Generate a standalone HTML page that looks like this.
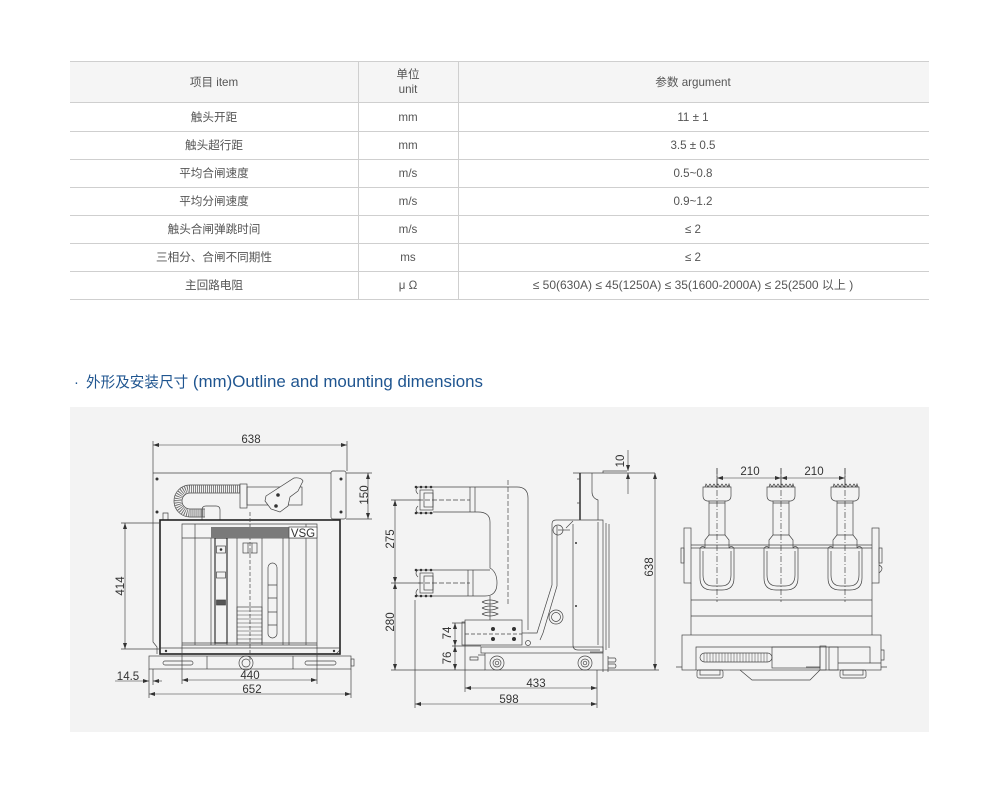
<!DOCTYPE html>
<html><head><meta charset="utf-8"><style>
html,body{margin:0;padding:0;background:#fff;}
svg{display:block;}
.t{font-family:"Liberation Sans","Noto Sans CJK SC",sans-serif;font-size:11.6px;fill:#555;}
.d{font-family:"Liberation Sans",sans-serif;font-size:11.5px;fill:#333;}
</style></head><body>
<svg width="1000" height="791" viewBox="0 0 1000 791" xmlns="http://www.w3.org/2000/svg">
<defs>
<marker id="a" markerWidth="6" markerHeight="4" refX="6" refY="2" orient="auto-start-reverse" markerUnits="userSpaceOnUse"><path d="M0,0 L6,2 L0,4 z" fill="#333"/></marker>
</defs>
<!-- TABLE -->
<rect x="70" y="61" width="859" height="41" fill="#f5f5f5"/>
<g stroke="#cfcfcf" stroke-width="1">
<line x1="70" y1="61.5" x2="929" y2="61.5"/>
<line x1="70" y1="102.5" x2="929" y2="102.5"/>
<line x1="70" y1="131.5" x2="929" y2="131.5"/>
<line x1="70" y1="159.5" x2="929" y2="159.5"/>
<line x1="70" y1="187.5" x2="929" y2="187.5"/>
<line x1="70" y1="215.5" x2="929" y2="215.5"/>
<line x1="70" y1="243.5" x2="929" y2="243.5"/>
<line x1="70" y1="271.5" x2="929" y2="271.5"/>
<line x1="70" y1="299.5" x2="929" y2="299.5"/>
<line x1="358.5" y1="61" x2="358.5" y2="300"/>
<line x1="458.5" y1="61" x2="458.5" y2="300"/>
</g>
<g class="t" text-anchor="middle">
<text x="214" y="86">项目 item</text>
<text x="408" y="78">单位</text>
<text x="408" y="93">unit</text>
<text x="693" y="86">参数 argument</text>
<text x="214" y="121">触头开距</text><text x="408" y="121">mm</text><text x="693" y="121">11 ± 1</text>
<text x="214" y="149">触头超行距</text><text x="408" y="149">mm</text><text x="693" y="149">3.5 ± 0.5</text>
<text x="214" y="177">平均合闸速度</text><text x="408" y="177">m/s</text><text x="693" y="177">0.5~0.8</text>
<text x="214" y="205">平均分闸速度</text><text x="408" y="205">m/s</text><text x="693" y="205">0.9~1.2</text>
<text x="214" y="233">触头合闸弹跳时间</text><text x="408" y="233">m/s</text><text x="693" y="233">≤ 2</text>
<text x="214" y="261">三相分、合闸不同期性</text><text x="408" y="261">ms</text><text x="693" y="261">≤ 2</text>
<text x="214" y="289">主回路电阻</text><text x="408" y="289">μ Ω</text><text x="693" y="289" font-size="12px">≤ 50(630A) ≤ 45(1250A) ≤ 35(1600-2000A) ≤ 25(2500 以上 )</text>
</g>
<!-- HEADING -->
<text x="74" y="387" fill="#1f5590" font-family="Liberation Sans,'Noto Sans CJK SC',sans-serif"><tspan font-size="14.6px">·</tspan><tspan x="86" font-size="14.6px">外形及安装尺寸</tspan><tspan font-size="16.9px"> (mm)Outline and mounting dimensions</tspan></text>
<!-- PANEL -->
<rect x="70" y="407" width="859" height="325" fill="#f3f3f3"/>

<!-- ================= LEFT DRAWING ================= -->
<g stroke="#444" stroke-width="0.7" fill="none">
<path d="M153,473 H331 M153,473 V642 L157,647 V654"/>
<rect x="331" y="471" width="15" height="48" rx="2"/>
<path d="M340,519 V650 L336,654"/>
<path d="M240,485 H190 A16,16 0 0 0 190,517 H205 M240,493 H190 A8,8 0 0 0 190,509 H205"/>
<path d="M240,489 H190 A12,12 0 0 0 190,513 H205" stroke-width="7" stroke-dasharray="0.8 1.2" stroke="#666"/>
<path d="M202,520 V510 Q202,506 206,506 H216 Q220,506 220,510 V520"/>
<path d="M163,520 V513 H168 V520"/>
<rect x="240" y="484" width="7" height="24"/>
<rect x="247" y="487" width="55" height="18"/>
<path d="M266,496 L294,478 Q301,477 303,481 L298,491 L290,497 L288,506 L280,512 L271,509 L265,501 Z" fill="#f3f3f3"/>
<rect x="160" y="520" width="180" height="134" stroke="#222" stroke-width="1.6"/>
<path d="M182,524 H317 V645 H182 Z"/>
<path d="M195,524 V645 M211,538 V645 M215,538 V645 M227,538 V645 M237,538 V645 M262,538 V645 M283,538 V645 M289,538 V645 M306,524 V645"/>
<path d="M182,538 H317 M160,648 H340 M182,643 H317"/>
<rect x="215" y="538" width="12" height="105" stroke="#222" stroke-width="1.1"/>
<rect x="216.5" y="546" width="9" height="7"/>
<rect x="216.5" y="572" width="9" height="6"/>
<rect x="216.5" y="600" width="9" height="5" fill="#555"/>
<rect x="243" y="543" width="14" height="10"/>
<path d="M248,543 V553 M252,543 V553"/>
<rect x="237" y="607" width="25" height="36"/>
<path d="M237,611 H262 M237,615 H262 M237,619 H262 M237,623 H262 M237,627 H262 M237,631 H262 M237,635 H262 M237,639 H262" stroke-width="0.5"/>
<rect x="268" y="563" width="9" height="75" rx="4.5"/>
<path d="M268,585 H277 M268,598 H277 M268,612 H277 M268,625 H277"/>
<path d="M250,512 V662" stroke-dasharray="4 2"/>
<rect x="149" y="656" width="202" height="13"/>
<path d="M207,656 V669 M293,656 V669"/>
<circle cx="246" cy="663" r="7"/><circle cx="246" cy="663" r="4"/>
<rect x="163" y="661" width="30" height="4" rx="2"/>
<rect x="305" y="661" width="31" height="4" rx="2"/>
<rect x="351" y="659" width="3" height="7"/>
<path d="M153,441 V473 M347,441 V471 M346,473 H372 M346,519 H372 M121,523 H160 M121,649 H160 M149,669 V698 M351,669 V698 M182,645 V684 M317,645 V684 M153,669 V685"/>
</g>
<g fill="#333">
<circle cx="157" cy="479" r="1.5"/><circle cx="157" cy="512" r="1.5"/>
<circle cx="341" cy="479" r="1.5"/><circle cx="341" cy="512" r="1.5"/>
<circle cx="278" cy="495" r="1.8"/><circle cx="276" cy="506" r="1.8"/>
<circle cx="221" cy="549.5" r="1.3"/><circle cx="166" cy="651" r="1.2"/><circle cx="334" cy="651" r="1.2"/>
</g>
<rect x="211" y="527" width="78" height="11" fill="#7a7a7a"/>
<rect x="289" y="527" width="28" height="11" fill="#fff" stroke="#444" stroke-width="0.7"/>
<text x="303" y="537" class="d" font-size="11px" text-anchor="middle">VSG</text>
<g stroke="#333" stroke-width="0.6" fill="none">
<line x1="153" y1="445" x2="347" y2="445" marker-start="url(#a)" marker-end="url(#a)"/>
<line x1="368" y1="473" x2="368" y2="519" marker-start="url(#a)" marker-end="url(#a)"/>
<line x1="125" y1="523" x2="125" y2="649" marker-start="url(#a)" marker-end="url(#a)"/>
<line x1="182" y1="680" x2="317" y2="680" marker-start="url(#a)" marker-end="url(#a)"/>
<line x1="149" y1="694" x2="351" y2="694" marker-start="url(#a)" marker-end="url(#a)"/>
<line x1="115" y1="681" x2="149" y2="681" marker-end="url(#a)"/>
<line x1="162" y1="681" x2="153" y2="681" marker-end="url(#a)"/>
</g>
<g class="d" text-anchor="middle">
<text x="251" y="443">638</text>
<text x="364" y="499" transform="rotate(-90 364 495)">150</text>
<text x="120" y="590" transform="rotate(-90 120 586)">414</text>
<text x="250" y="679">440</text>
<text x="252" y="693">652</text>
<text x="128" y="680">14.5</text>
</g>

<!-- ================= MIDDLE DRAWING ================= -->
<g stroke="#444" stroke-width="0.7" fill="none">
<path d="M573,473 H603 V471 H627 M603,473 H655"/>
<path d="M580,473 V520" stroke-width="1.4" stroke="#222"/>
<path d="M592,473 V492 Q592,498 598,500 V520"/>
<path d="M577,479 H580 M577,503 H580"/>
<path d="M556,520 H603 V652 H590"/>
<path d="M556,520 Q552,520 552,524 V585 L537,633 H528"/>
<path d="M557,526 V586 L543,633 L540,640"/>
<path d="M566,528 L573,521 M573,524 V645 Q573,650 578,650 H600"/>
<path d="M598,522 V645 M606,523 V650 M609,524 V648"/>
<circle cx="558" cy="530" r="5"/><path d="M558,530 H570"/>
<circle cx="556" cy="617" r="7"/><circle cx="556" cy="617" r="4.5"/>
<path d="M433,487 H517 Q528,487 528,498 V630"/>
<path d="M433,512 H478 Q490,512 490,522 V568 Q497,572 497,583 Q497,596 485,596 H433"/>
<path d="M433,570 H490"/>
<path d="M470,487 V512 M475,487 V512 M468,570 V596 M473,570 V596"/>
<path d="M418,500 H470 M418,583 H470" stroke-dasharray="5 2"/>
<path d="M508,480 V605" stroke-dasharray="5 2"/>
<rect x="420" y="490" width="13" height="20"/><rect x="424" y="493" width="9" height="14"/>
<path d="M416,487 H433 M416,513 H433 M418,487 Q414,490 418,494 M418,506 Q414,510 418,513"/>
<rect x="420" y="573" width="13" height="20"/><rect x="424" y="576" width="9" height="14"/>
<path d="M416,570 H433 M416,596 H433 M418,570 Q414,573 418,577 M418,589 Q414,593 418,596"/>
<path d="M490,596 V620"/>
<path d="M482,602 Q490,598 498,602 Q490,606 482,602 M482,608 Q490,604 498,608 Q490,612 482,608 M482,614 Q490,610 498,614 Q490,618 482,614"/>
<rect x="465" y="620" width="57" height="25"/>
<rect x="462" y="622" width="3" height="23"/>
<path d="M465,634 H522" stroke-dasharray="4 2"/>
<path d="M522,633 H528"/>
<circle cx="528" cy="643" r="2.5"/>
<rect x="481" y="647" width="122" height="6"/>
<path d="M485,653 V670 H605 M478,655 H485 M470,657 H478 V660 H470 Z"/>
<circle cx="497" cy="663" r="7"/><circle cx="497" cy="663" r="4"/><circle cx="497" cy="663" r="1.8"/>
<circle cx="585" cy="663" r="7"/><circle cx="585" cy="663" r="4"/><circle cx="585" cy="663" r="1.8"/>
<path d="M603,653 V672 M608,656 V672 M608,658 H615 Q617,660 615,662 H608 M608,664 H615 Q617,666 615,668 H608"/>
<path d="M391,500 H420 M391,583 H420 M391,670 H485 M605,670 H659 M452,623 H465 M452,646 H481 M415,600 V708 M465,645 V692 M597,670 V708"/>
</g>
<g fill="#333">
<circle cx="493" cy="629" r="2"/><circle cx="514" cy="629" r="2"/>
<circle cx="493" cy="639" r="2"/><circle cx="514" cy="639" r="2"/>
<circle cx="576" cy="543" r="1"/><circle cx="576" cy="606" r="1"/>
<circle cx="416" cy="487" r="1.3"/><circle cx="421" cy="487" r="1.3"/><circle cx="426" cy="487" r="1.3"/><circle cx="431" cy="487" r="1.3"/>
<circle cx="416" cy="513" r="1.3"/><circle cx="421" cy="513" r="1.3"/><circle cx="426" cy="513" r="1.3"/><circle cx="431" cy="513" r="1.3"/>
<circle cx="416" cy="570" r="1.3"/><circle cx="421" cy="570" r="1.3"/><circle cx="426" cy="570" r="1.3"/><circle cx="431" cy="570" r="1.3"/>
<circle cx="416" cy="596" r="1.3"/><circle cx="421" cy="596" r="1.3"/><circle cx="426" cy="596" r="1.3"/><circle cx="431" cy="596" r="1.3"/>
</g>
<g stroke="#333" stroke-width="0.6" fill="none">
<line x1="628" y1="450" x2="628" y2="471" marker-end="url(#a)"/>
<line x1="628" y1="494" x2="628" y2="473" marker-end="url(#a)"/>
<line x1="655" y1="473" x2="655" y2="670" marker-start="url(#a)" marker-end="url(#a)"/>
<line x1="395" y1="500" x2="395" y2="583" marker-start="url(#a)" marker-end="url(#a)"/>
<line x1="395" y1="583" x2="395" y2="670" marker-start="url(#a)" marker-end="url(#a)"/>
<line x1="455" y1="623" x2="455" y2="646" marker-start="url(#a)" marker-end="url(#a)"/>
<line x1="455" y1="646" x2="455" y2="670" marker-start="url(#a)" marker-end="url(#a)"/>
<line x1="465" y1="688" x2="597" y2="688" marker-start="url(#a)" marker-end="url(#a)"/>
<line x1="415" y1="704" x2="597" y2="704" marker-start="url(#a)" marker-end="url(#a)"/>
</g>
<g class="d" text-anchor="middle">
<text x="620" y="465" transform="rotate(-90 620 461)">10</text>
<text x="649" y="571" transform="rotate(-90 649 567)">638</text>
<text x="390" y="543" transform="rotate(-90 390 539)">275</text>
<text x="390" y="626" transform="rotate(-90 390 622)">280</text>
<text x="447" y="637" transform="rotate(-90 447 633)">74</text>
<text x="447" y="662" transform="rotate(-90 447 658)">76</text>
<text x="536" y="687">433</text>
<text x="509" y="703">598</text>
</g>

<!-- ================= RIGHT DRAWING ================= -->
<g stroke="#444" stroke-width="0.7" fill="none">
<path d="M691,545 H872 M691,548 H872"/>
<rect x="684" y="528" width="7" height="55"/><rect x="681" y="548" width="3" height="15"/>
<rect x="872" y="528" width="7" height="55"/><rect x="879" y="548" width="3" height="15"/>
<path d="M879,565 Q885,568 879,573"/>
<path d="M691,583 V635 M872,583 V635 M691,600 H872 M691,616 H872"/>
<g id="ins">
<path d="M705,487 L706,484 L708,487 L710,484 L712,487 L714,484 L716,487 L718,484 L720,487 L722,484 L724,487 L726,484 L728,487 L729,484 L730,487"/>
<path d="M703,487 H731 V496 Q731,500 727,501 H707 Q703,500 703,496 Z"/>
<path d="M709,501 V535 M725,501 V535 M709,503 H725 M709,535 H725"/>
<path d="M709,535 L705,540 V548 M725,535 L729,540 V548"/>
<path d="M700,548 Q703,545 705,548 M729,548 Q731,545 734,548"/>
<path d="M700,548 V578 Q700,590 712,590 H722 Q734,590 734,578 V548"/>
<path d="M703,551 V575 Q703,586 713,586 H721 Q731,586 731,575 V551"/>
<path d="M717,468 V602" stroke-dasharray="6 2 1 2"/>
</g>
<use href="#ins" x="64"/>
<use href="#ins" x="128"/>
<rect x="682" y="635" width="199" height="35"/>
<path d="M696,670 V647 H870 V663 H881"/>
<rect x="700" y="653" width="72" height="9" rx="4.5"/>
<path d="M704,653 V662 M707,653 V662 M710,653 V662 M713,653 V662 M716,653 V662 M719,653 V662 M722,653 V662 M725,653 V662 M728,653 V662 M731,653 V662 M734,653 V662 M737,653 V662 M740,653 V662 M743,653 V662 M746,653 V662 M749,653 V662 M752,653 V662 M755,653 V662 M758,653 V662 M761,653 V662 M764,653 V662 M767,653 V662" stroke-width="0.5"/>
<rect x="772" y="647" width="48" height="21"/>
<rect x="820" y="646" width="6" height="24"/>
<rect x="829" y="647" width="9" height="23"/>
<path d="M838,663 H870"/>
<rect x="697" y="670" width="26" height="8" rx="2"/><rect x="700" y="670" width="20" height="5"/>
<rect x="840" y="670" width="26" height="8" rx="2"/><rect x="843" y="670" width="20" height="5"/>
<path d="M740,670 L752,680 H810 L820,670 M806,667 H820"/>
<path d="M676,667 H682 M881,667 H887 M881,650 H884 V660 H881"/>
<path d="M717,468 V488 M781,468 V488 M845,468 V488"/>
</g>
<g stroke="#333" stroke-width="0.6" fill="none">
<line x1="717" y1="478" x2="781" y2="478" marker-start="url(#a)" marker-end="url(#a)"/>
<line x1="781" y1="478" x2="845" y2="478" marker-start="url(#a)" marker-end="url(#a)"/>
</g>
<g class="d" text-anchor="middle">
<text x="750" y="475">210</text>
<text x="814" y="475">210</text>
</g>
</svg>
</body></html>
